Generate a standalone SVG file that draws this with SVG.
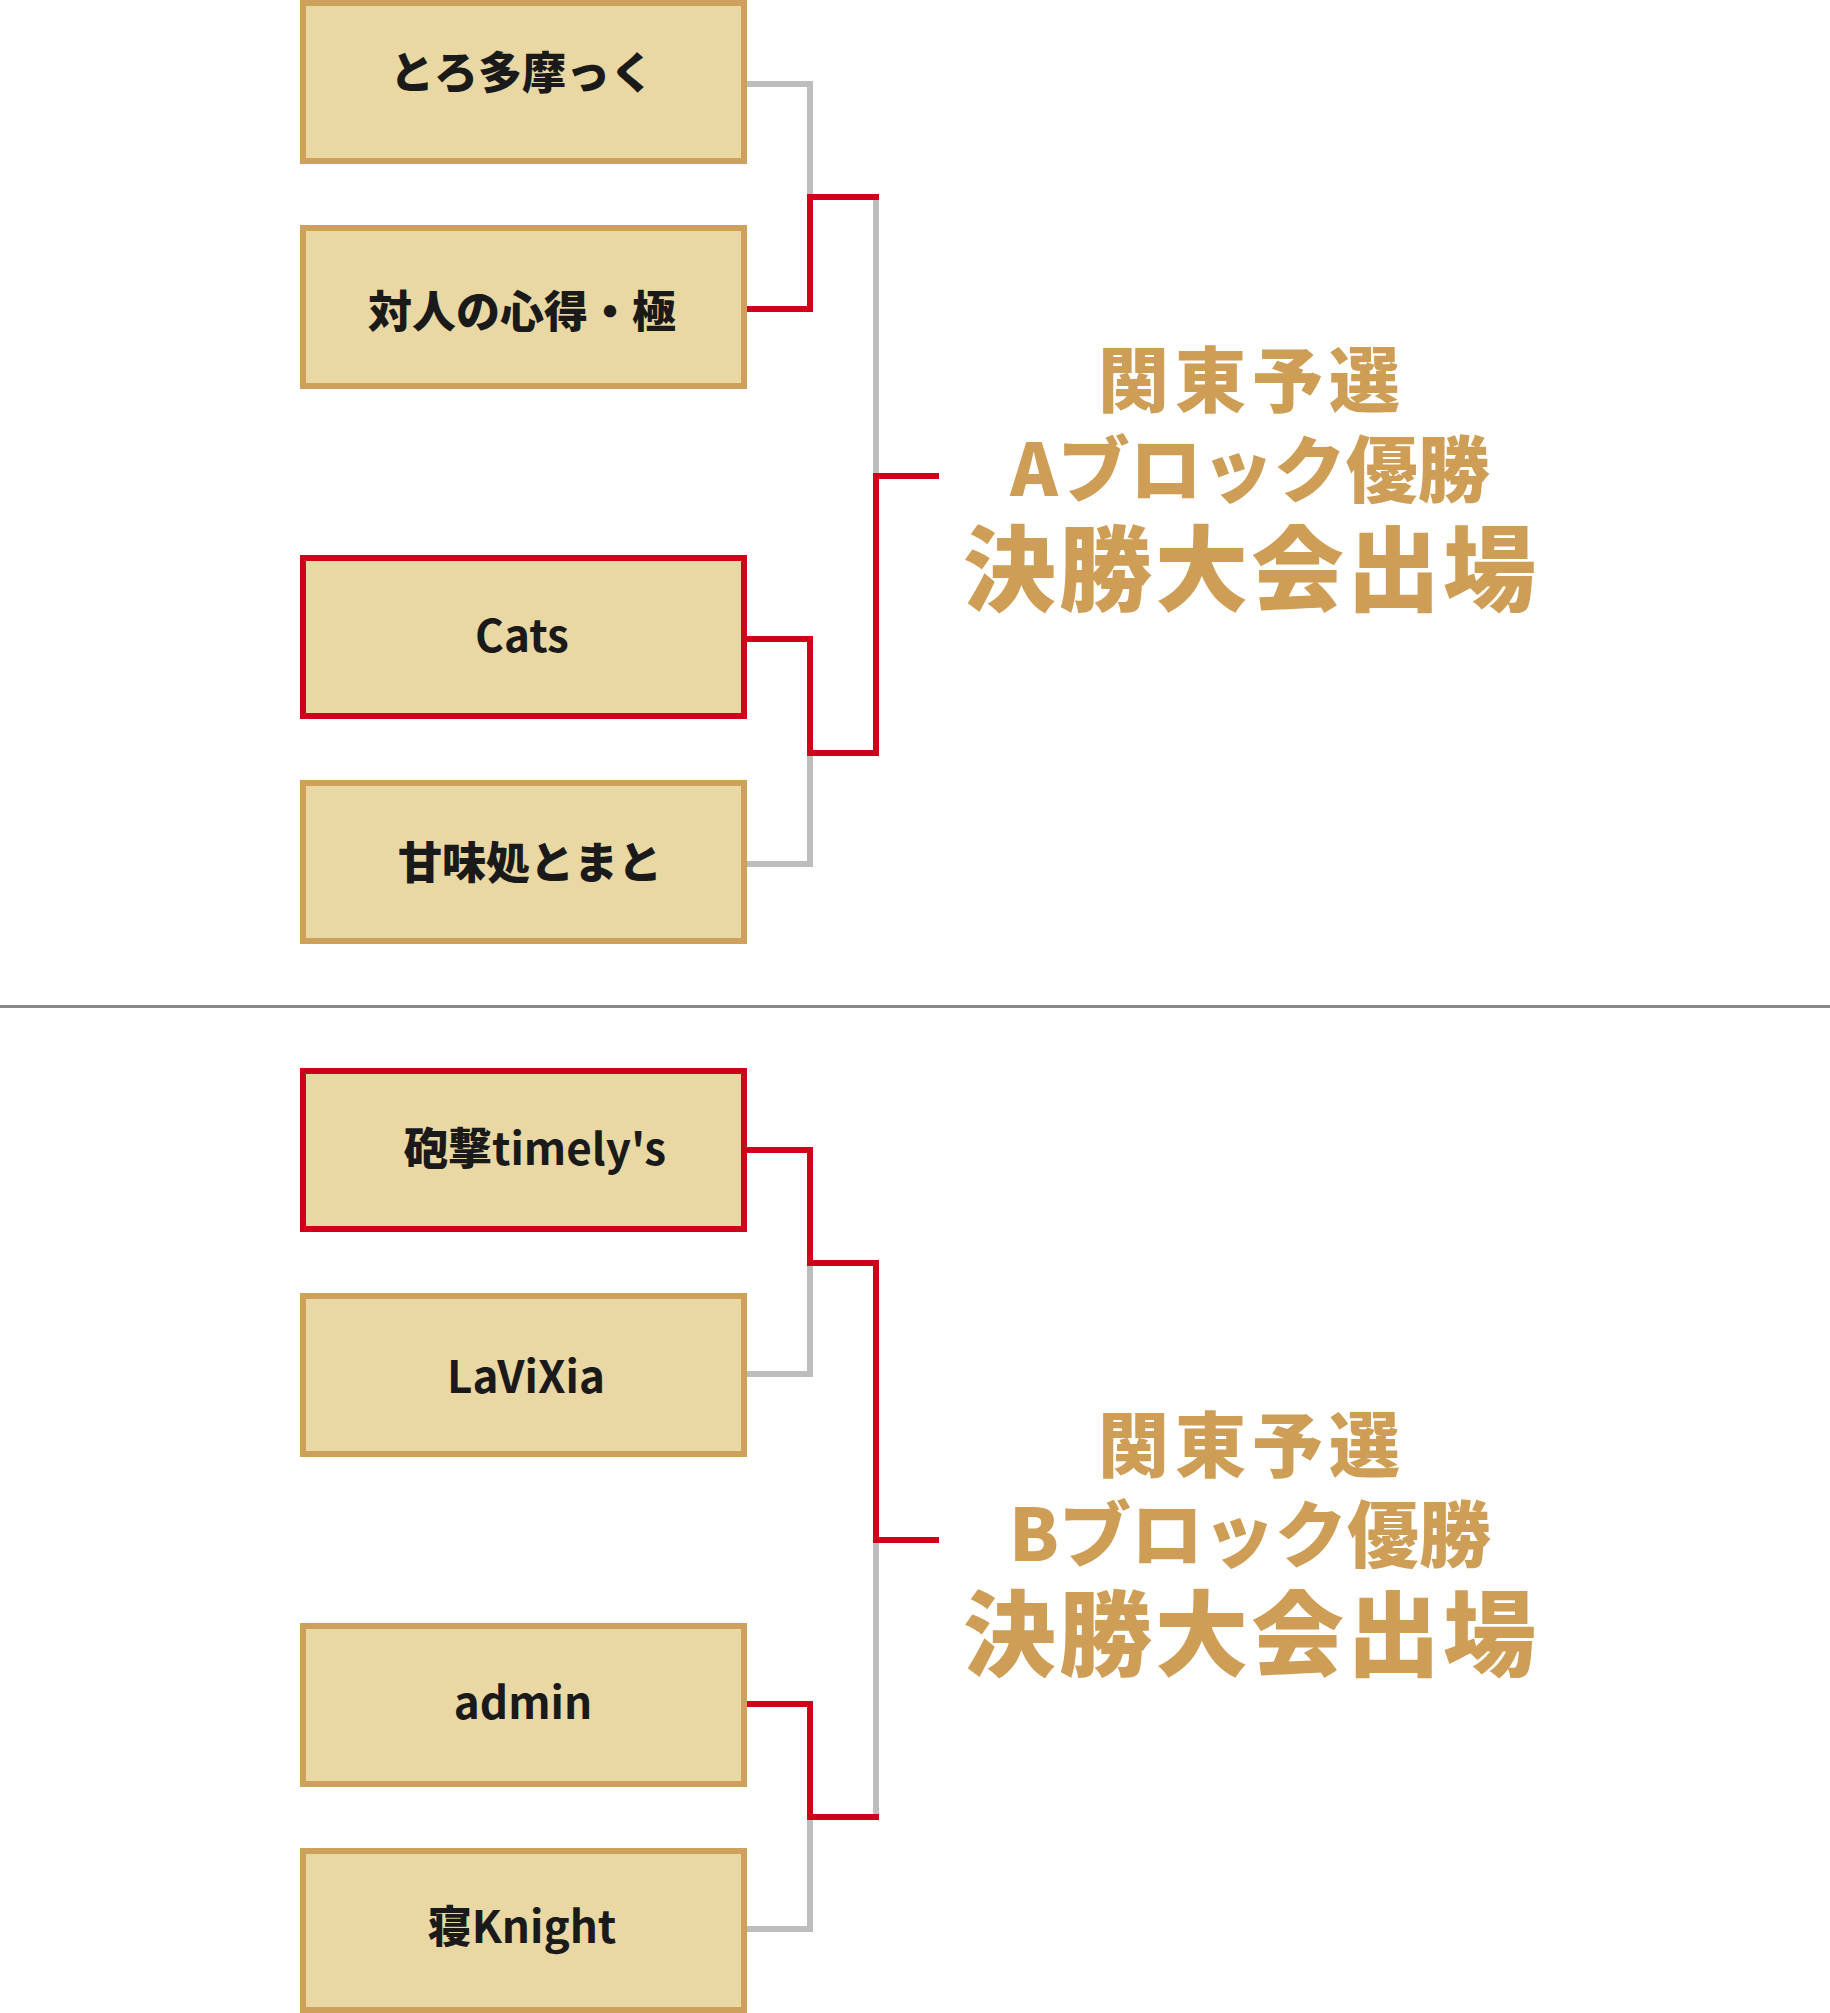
<svg xmlns="http://www.w3.org/2000/svg" width="1830" height="2013" viewBox="0 0 1830 2013">
<style>
.box{fill:#E9D8A3;stroke:#CDA05C;stroke-width:6}
.win{fill:#E9D8A3;stroke:#D0011B;stroke-width:6}
.lbl{font-family:"Noto Sans CJK JP","Noto Sans",sans-serif;font-weight:700;font-size:44px;fill:#1A1A1A;text-anchor:middle}
.hv{font-weight:900}
.ttl{font-family:"Noto Sans CJK JP",sans-serif;font-weight:900;fill:#CE9E57;text-anchor:middle}
.g{fill:none;stroke:#BDBDBD;stroke-width:6}
.r{fill:none;stroke:#D0011B;stroke-width:6;stroke-linecap:square}
</style>
<rect x="0" y="0" width="1830" height="2013" fill="#FFFFFF"/>
<g id="connectors">
<path class="g" d="M747,84 H810 V197"/>
<path class="g" d="M747,864 H810 V753"/>
<path class="g" d="M876,197 V476"/>
<path class="g" d="M747,1374 H810 V1263"/>
<path class="g" d="M747,1929 H810 V1817"/>
<path class="g" d="M876,1817 V1540"/>
<path class="r" d="M747,309 H810 V197 H876"/>
<path class="r" d="M747,639 H810 V753 H876 V476 H936"/>
<path class="r" d="M747,1150 H810 V1263 H876 V1540 H936"/>
<path class="r" d="M747,1704 H810 V1817 H876"/>
<rect x="0" y="1005" width="1830" height="3" fill="#888888"/>
</g>
<g id="a1"><rect class="box" x="303" y="3" width="441" height="158"/><text class="lbl hv" x="522" y="89" font-size="42">とろ多摩っく</text></g>
<g id="a2"><rect class="box" x="303" y="228" width="441" height="158"/><text class="lbl hv" x="522" y="328" font-size="43">対人の心得・極</text></g>
<g id="a3"><rect class="win" x="303" y="558" width="441" height="158"/><text class="lbl" x="522" y="652" font-size="46">Cats</text></g>
<g id="a4"><rect class="box" x="303" y="783" width="441" height="158"/><text class="lbl hv" x="530" y="879" font-size="43">甘味処とまと</text></g>
<g id="a-title">
<text class="ttl" x="1252" y="406" font-size="71" letter-spacing="6">関東予選</text>
<text class="ttl" x="1250" y="496" font-size="72">Aブロック優勝</text>
<text class="ttl" x="1251" y="604" font-size="93" letter-spacing="3">決勝大会出場</text>
</g>
<g id="b1"><rect class="win" x="303" y="1071" width="441" height="158"/><text class="lbl" x="535" y="1165"><tspan class="hv">砲撃</tspan>timely's</text></g>
<g id="b2"><rect class="box" x="303" y="1296" width="441" height="158"/><text class="lbl" x="526" y="1393">LaViXia</text></g>
<g id="b3"><rect class="box" x="303" y="1626" width="441" height="158"/><text class="lbl" x="523" y="1719">admin</text></g>
<g id="b4"><rect class="box" x="303" y="1851" width="441" height="159"/><text class="lbl" x="522" y="1943"><tspan class="hv">寝</tspan>Knight</text></g>
<g id="b-title">
<text class="ttl" x="1252" y="1471" font-size="71" letter-spacing="6">関東予選</text>
<text class="ttl" x="1250" y="1561" font-size="72">Bブロック優勝</text>
<text class="ttl" x="1251" y="1669" font-size="93" letter-spacing="3">決勝大会出場</text>
</g>
</svg>
